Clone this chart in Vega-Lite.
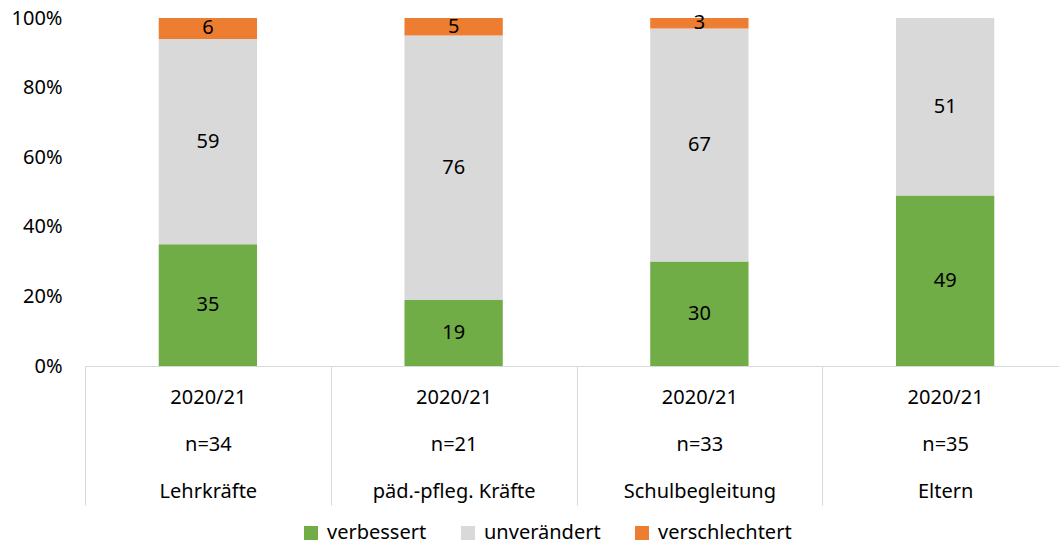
{
  "$schema": "https://vega.github.io/schema/vega-lite/v6.json",
  "width": 974,
  "height": 348,
  "autosize": {"type": "none"},
  "padding": {"left": 85, "top": 18, "right": 0, "bottom": 183},
  "config": {"view": {"stroke": null}, "font": "Noto Sans"},
  "data": {
    "values": [
      {"gruppe": "2020/21|n=34|Lehrkräfte", "kategorie": "verbessert", "wert": 35, "ord": 1},
      {"gruppe": "2020/21|n=34|Lehrkräfte", "kategorie": "unverändert", "wert": 59, "ord": 2},
      {"gruppe": "2020/21|n=34|Lehrkräfte", "kategorie": "verschlechtert", "wert": 6, "ord": 3},
      {"gruppe": "2020/21|n=21|päd.-pfleg. Kräfte", "kategorie": "verbessert", "wert": 19, "ord": 1},
      {"gruppe": "2020/21|n=21|päd.-pfleg. Kräfte", "kategorie": "unverändert", "wert": 76, "ord": 2},
      {"gruppe": "2020/21|n=21|päd.-pfleg. Kräfte", "kategorie": "verschlechtert", "wert": 5, "ord": 3},
      {"gruppe": "2020/21|n=33|Schulbegleitung", "kategorie": "verbessert", "wert": 30, "ord": 1},
      {"gruppe": "2020/21|n=33|Schulbegleitung", "kategorie": "unverändert", "wert": 67, "ord": 2},
      {"gruppe": "2020/21|n=33|Schulbegleitung", "kategorie": "verschlechtert", "wert": 3, "ord": 3},
      {"gruppe": "2020/21|n=35|Eltern", "kategorie": "verbessert", "wert": 49, "ord": 1},
      {"gruppe": "2020/21|n=35|Eltern", "kategorie": "unverändert", "wert": 51, "ord": 2}
    ]
  },
  "transform": [
    {"stack": "wert", "groupby": ["gruppe"], "sort": [{"field": "ord", "order": "ascending"}], "as": ["y0", "y1"]}
  ],
  "encoding": {
    "x": {
      "field": "gruppe",
      "type": "nominal",
      "sort": ["2020/21|n=34|Lehrkräfte", "2020/21|n=21|päd.-pfleg. Kräfte", "2020/21|n=33|Schulbegleitung", "2020/21|n=35|Eltern"],
      "scale": {"range": [0, 983], "paddingInner": 0, "paddingOuter": 0},
      "axis": {
        "title": null,
        "labelExpr": "datum.value ? split(datum.value, '|') : ''",
        "labelAngle": 0,
        "labelFontSize": 20,
        "labelColor": "black",
        "labelLineHeight": 47,
        "labelBaseline": "top",
        "labelPadding": -118,
        "labelLimit": 0,
        "labelOverlap": false,
        "tickBand": "extent",
        "tickSize": 139,
        "tickColor": "#D9D9D9",
        "domainColor": "#D9D9D9"
      }
    }
  },
  "layer": [
    {
      "mark": {"type": "bar", "width": {"band": 0.4}},
      "encoding": {
        "y": {
          "field": "y0",
          "type": "quantitative",
          "scale": {"domain": [0, 100], "nice": false},
          "axis": {
            "title": null,
            "values": [0, 20, 40, 60, 80, 100],
            "labelExpr": "datum.value + '%'",
            "ticks": false,
            "domain": false,
            "grid": false,
            "labelFontSize": 20,
            "labelColor": "black",
            "labelPadding": 23
          }
        },
        "y2": {"field": "y1"},
        "color": {
          "field": "kategorie",
          "type": "nominal",
          "scale": {"domain": ["verbessert", "unverändert", "verschlechtert"], "range": ["#70AD47", "#D9D9D9", "#ED7D31"]},
          "legend": {
            "title": null,
            "orient": "none",
            "legendX": 216,
            "legendY": 505,
            "direction": "horizontal",
            "symbolType": "square",
            "symbolSize": 196,
            "symbolStrokeWidth": 0,
            "symbolOpacity": 1,
            "labelFontSize": 20,
            "labelColor": "black",
            "columnPadding": 31,
            "labelOffset": 6
          }
        }
      }
    },
    {
      "transform": [
        {"fold": ["y0", "y1"], "as": ["k", "v"]},
        {"aggregate": [{"op": "mean", "field": "v", "as": "mid"}], "groupby": ["gruppe", "kategorie", "wert"]}
      ],
      "mark": {"type": "text", "fontSize": 20, "color": "black"},
      "encoding": {
        "y": {"field": "mid", "type": "quantitative"},
        "text": {"field": "wert", "type": "quantitative"}
      }
    }
  ]
}
